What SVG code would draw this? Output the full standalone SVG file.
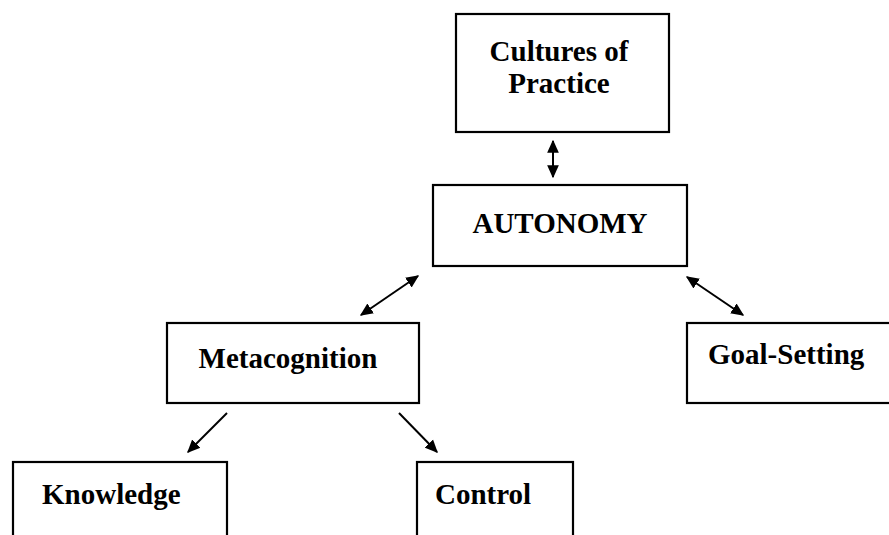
<svg xmlns="http://www.w3.org/2000/svg" width="889" height="535" viewBox="0 0 889 535">
<style>
.box{fill:#fff;stroke:#000;stroke-width:2.2}
.lbl{font-family:"Liberation Serif","Times New Roman",serif;font-weight:bold;font-size:29px;fill:#000}
.c{text-anchor:middle}
.conn line{stroke:#000;stroke-width:2}
</style>
<defs>
<marker id="ah" viewBox="0 0 10 10" refX="9" refY="5" markerWidth="6.5" markerHeight="6.5" orient="auto-start-reverse" markerUnits="strokeWidth">
<path d="M0,0.5 L10,5 L0,9.5 z" fill="#000"/>
</marker>
</defs>
<rect width="889" height="535" fill="#fff"/>
<g id="cultures">
<rect class="box" x="456" y="14" width="213" height="118"/>
<text class="lbl c" x="559" y="61">Cultures of</text>
<text class="lbl c" x="559" y="93">Practice</text>
</g>
<g id="autonomy">
<rect class="box" x="433" y="185" width="254" height="81"/>
<text class="lbl c" x="560" y="233">AUTONOMY</text>
</g>
<g id="metacognition">
<rect class="box" x="167" y="323" width="252" height="80"/>
<text class="lbl c" x="288" y="368">Metacognition</text>
</g>
<g id="goal-setting">
<rect class="box" x="687" y="323" width="220" height="80"/>
<text class="lbl" x="708" y="364">Goal-Setting</text>
</g>
<g id="knowledge">
<rect class="box" x="13" y="462" width="214" height="100"/>
<text class="lbl" x="42" y="504">Knowledge</text>
</g>
<g id="control">
<rect class="box" x="417" y="462" width="156" height="100"/>
<text class="lbl" x="435" y="504">Control</text>
</g>
<g class="conn" id="connectors">
<line x1="553" y1="141" x2="553" y2="177" marker-start="url(#ah)" marker-end="url(#ah)"/>
<line x1="418" y1="276" x2="361" y2="315" marker-start="url(#ah)" marker-end="url(#ah)"/>
<line x1="687" y1="277" x2="743" y2="315" marker-start="url(#ah)" marker-end="url(#ah)"/>
<line x1="227" y1="413" x2="188" y2="452" marker-end="url(#ah)"/>
<line x1="399" y1="413" x2="437" y2="452" marker-end="url(#ah)"/>
</g>
</svg>
